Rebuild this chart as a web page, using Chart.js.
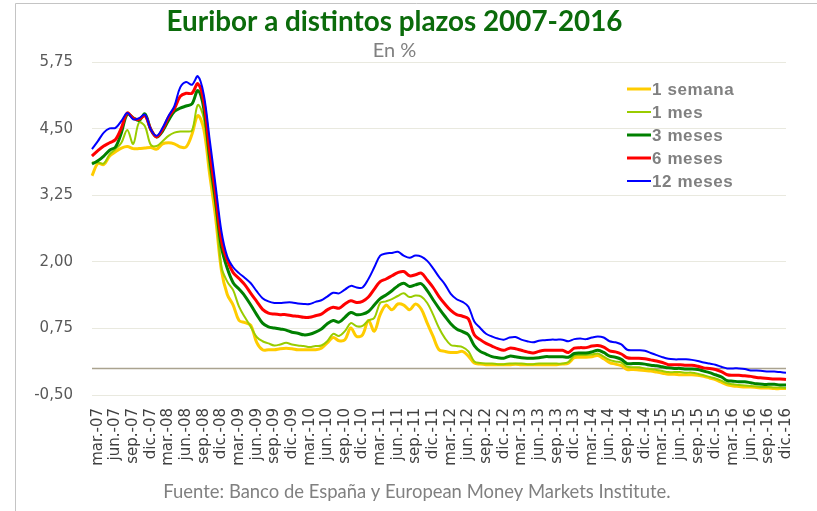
<!DOCTYPE html>
<html><head><meta charset="utf-8">
<script src="https://cdn.jsdelivr.net/npm/chart.js@4.4.1/dist/chart.umd.min.js"></script>
<style>html,body{margin:0;padding:0;background:#fff;overflow:hidden}</style>
</head><body>
<canvas id="c" width="817" height="511"></canvas>
<script>
// ---------- DATA ----------
const months = [
 'feb.-07','mar.-07','abr.-07','may.-07','jun.-07','jul.-07','ago.-07','sep.-07','oct.-07','nov.-07','dic.-07',
 'ene.-08','feb.-08','mar.-08','abr.-08','may.-08','jun.-08','jul.-08','ago.-08','sep.-08','oct.-08','nov.-08','dic.-08',
 'ene.-09','feb.-09','mar.-09','abr.-09','may.-09','jun.-09','jul.-09','ago.-09','sep.-09','oct.-09','nov.-09','dic.-09',
 'ene.-10','feb.-10','mar.-10','abr.-10','may.-10','jun.-10','jul.-10','ago.-10','sep.-10','oct.-10','nov.-10','dic.-10',
 'ene.-11','feb.-11','mar.-11','abr.-11','may.-11','jun.-11','jul.-11','ago.-11','sep.-11','oct.-11','nov.-11','dic.-11',
 'ene.-12','feb.-12','mar.-12','abr.-12','may.-12','jun.-12','jul.-12','ago.-12','sep.-12','oct.-12','nov.-12','dic.-12',
 'ene.-13','feb.-13','mar.-13','abr.-13','may.-13','jun.-13','jul.-13','ago.-13','sep.-13','oct.-13','nov.-13','dic.-13',
 'ene.-14','feb.-14','mar.-14','abr.-14','may.-14','jun.-14','jul.-14','ago.-14','sep.-14','oct.-14','nov.-14','dic.-14',
 'ene.-15','feb.-15','mar.-15','abr.-15','may.-15','jun.-15','jul.-15','ago.-15','sep.-15','oct.-15','nov.-15','dic.-15',
 'ene.-16','feb.-16','mar.-16','abr.-16','may.-16','jun.-16','jul.-16','ago.-16','sep.-16','oct.-16','nov.-16','dic.-16'
];
const tickLabels = [
 'mar.-07','jun.-07','sep.-07','dic.-07','mar.-08','jun.-08','sep.-08','dic.-08',
 'mar.-09','jun.-09','sep.-09','dic.-09','mar.-10','jun.-10','sep.-10','dic.-10',
 'mar.-11','jun.-11','sep.-11','dic.-11','mar.-12','jun.-12','sep.-12','dic.-12',
 'mar.-13','jun.-13','sep.-13','dic.-13','mar.-14','jun.-14','sep.-14','dic.-14',
 'mar.-15','jun.-15','sep.-15','dic.-15','mar.-16','jun.-16','sep.-16','dic.-16'
];
const yTicks = [-0.5, 0.75, 2.0, 3.25, 4.5, 5.75];
const seriesNames = ['1 semana', '1 mes', '3 meses', '6 meses', '12 meses'];

const euribor1s = [
 3.62,3.85,3.83,3.99,4.07,4.14,4.17,4.13,4.13,4.14,4.15,
 4.12,4.22,4.24,4.22,4.16,4.16,4.40,4.75,4.50,3.65,2.85,
 1.85,1.39,1.19,0.90,0.86,0.81,0.49,0.35,0.35,0.35,0.37,
 0.38,0.37,0.35,0.35,0.35,0.35,0.38,0.48,0.58,0.52,0.54,
 0.76,0.60,0.63,0.90,0.70,1.01,1.19,1.10,1.21,1.19,1.10,
 1.21,1.11,0.85,0.60,0.35,0.32,0.30,0.30,0.32,0.23,
 0.10,0.08,0.07,0.07,0.07,0.07,0.07,0.08,0.07,0.07,0.07,0.07,0.07,0.07,0.07,0.08,
 0.10,0.20,0.21,0.21,0.22,0.24,0.18,0.11,0.08,0.05,
 -0.02,-0.02,-0.03,-0.04,-0.05,-0.07,-0.09,-0.11,-0.11,-0.12,
 -0.12,-0.12,-0.13,-0.15,-0.18,-0.21,-0.26,-0.31,-0.33,-0.34,
 -0.35,-0.35,-0.36,-0.37,-0.37,-0.38,-0.38,-0.38
];
const euribor1m = [
 3.87,3.87,3.85,4.02,4.12,4.24,4.48,4.22,4.62,4.55,4.20,
 4.18,4.27,4.37,4.43,4.45,4.45,4.47,4.95,4.70,3.77,3.03,
 1.91,1.63,1.47,1.16,0.96,0.78,0.59,0.51,0.47,0.43,0.45,
 0.48,0.45,0.43,0.42,0.40,0.42,0.43,0.51,0.65,0.61,0.70,
 0.85,0.79,0.80,0.90,0.95,1.23,1.26,1.30,1.36,1.41,1.34,
 1.37,1.35,1.23,1.01,0.76,0.57,0.44,0.42,0.40,0.32,
 0.13,0.10,0.09,0.09,0.08,0.08,0.09,0.09,0.09,0.08,0.08,0.09,0.09,0.09,0.09,0.09,
 0.12,0.24,0.25,0.25,0.26,0.28,0.22,0.16,0.13,0.11,
 0.03,0.02,0.02,0.00,-0.01,-0.03,-0.05,-0.07,-0.07,-0.07,
 -0.08,-0.08,-0.10,-0.13,-0.16,-0.19,-0.23,-0.28,-0.30,-0.31,
 -0.32,-0.33,-0.34,-0.35,-0.35,-0.36,-0.36,-0.37
];
const euribor3m = [
 3.84,3.90,3.99,4.10,4.16,4.43,4.78,4.71,4.66,4.78,4.49,
 4.35,4.46,4.66,4.83,4.89,4.93,4.97,5.22,4.89,3.96,3.15,
 2.28,1.88,1.61,1.49,1.36,1.19,1.01,0.85,0.78,0.76,0.74,
 0.72,0.68,0.66,0.63,0.64,0.68,0.74,0.84,0.90,0.87,0.96,
 1.05,1.01,1.02,1.07,1.19,1.31,1.38,1.46,1.55,1.60,1.54,
 1.57,1.59,1.46,1.29,1.13,0.98,0.84,0.74,0.69,0.63,
 0.43,0.32,0.27,0.22,0.20,0.19,0.23,0.22,0.20,0.19,0.19,0.20,0.22,0.22,0.22,0.22,
 0.21,0.28,0.29,0.29,0.31,0.34,0.30,0.23,0.21,0.17,
 0.09,0.09,0.09,0.08,0.06,0.05,0.03,0.01,0.00,0.00,
 -0.01,-0.01,-0.02,-0.05,-0.08,-0.12,-0.16,-0.23,-0.24,-0.25,
 -0.25,-0.27,-0.29,-0.30,-0.30,-0.30,-0.31,-0.31
];
const euribor6m = [
 3.99,4.09,4.18,4.24,4.30,4.52,4.80,4.70,4.68,4.75,4.49,
 4.35,4.49,4.72,4.88,5.11,5.17,5.17,5.35,5.02,4.09,3.28,
 2.41,2.03,1.80,1.69,1.57,1.41,1.26,1.11,1.04,1.02,1.01,
 1.01,0.99,0.98,0.96,0.96,0.99,1.02,1.10,1.15,1.13,1.21,
 1.27,1.24,1.26,1.34,1.49,1.63,1.68,1.74,1.80,1.82,1.74,
 1.76,1.79,1.66,1.52,1.35,1.21,1.09,1.01,0.98,0.93,
 0.63,0.54,0.47,0.42,0.37,0.34,0.38,0.37,0.34,0.31,0.29,0.32,0.34,0.34,0.34,0.34,
 0.30,0.38,0.39,0.39,0.42,0.43,0.40,0.33,0.31,0.27,
 0.20,0.19,0.19,0.18,0.16,0.14,0.11,0.07,0.07,0.07,
 0.06,0.06,0.04,0.01,0.00,-0.02,-0.06,-0.12,-0.13,-0.13,
 -0.14,-0.15,-0.17,-0.18,-0.19,-0.20,-0.20,-0.21
];
const euribor12m = [
 4.12,4.27,4.43,4.51,4.52,4.65,4.80,4.68,4.70,4.77,4.49,
 4.37,4.52,4.74,4.93,5.28,5.38,5.33,5.49,5.15,4.31,3.45,
 2.58,2.10,1.90,1.79,1.70,1.60,1.45,1.32,1.26,1.23,1.23,
 1.24,1.24,1.22,1.21,1.21,1.25,1.28,1.35,1.42,1.41,1.48,
 1.55,1.52,1.52,1.68,1.90,2.12,2.16,2.17,2.19,2.12,2.08,
 2.12,2.10,2.02,1.88,1.72,1.58,1.40,1.30,1.25,1.16,
 0.88,0.76,0.65,0.60,0.56,0.54,0.58,0.59,0.54,0.51,0.49,0.52,0.53,0.54,0.54,0.54,
 0.51,0.55,0.56,0.55,0.58,0.60,0.58,0.51,0.49,0.45,
 0.35,0.34,0.34,0.33,0.29,0.25,0.21,0.18,0.17,0.17,
 0.17,0.16,0.14,0.11,0.09,0.07,0.03,0.00,0.00,0.00,
 -0.01,-0.04,-0.04,-0.05,-0.06,-0.06,-0.07,-0.08
];

// ---------- STYLE ----------
const colors = ['#FFCC00', '#99CC00', '#008000', '#FF0000', '#0000FF'];
const widths = [3, 2, 3, 3, 2];
const seriesData = [euribor1s, euribor1m, euribor3m, euribor6m, euribor12m];

const titleText = 'Euribor a distintos plazos 2007-2016';
const subtitleText = 'En %';
const sourceText = 'Fuente: Banco de España y European Money Markets Institute.';

function fitSize(text, weight, family, target) {
  const c = document.createElement('canvas').getContext('2d');
  c.font = weight + ' 20px ' + family;
  return 20 * target / c.measureText(text).width;
}
const titleSize = fitSize(titleText, 'bold', 'Lato', 456);
const sourceSize = fitSize(sourceText, 'normal', 'Lato', 508);
const titlePadTop = 5;
const subSize = 20;
const titleH = titleSize * 1.2 + titlePadTop;
const subPadBottom = Math.max(0, 61 - titleH - subSize * 1.2);

const decor = {
  id: 'decor',
  beforeDraw(chart) {
    const ctx = chart.ctx;
    ctx.save();
    ctx.fillStyle = '#ffffff';
    ctx.fillRect(0, 0, chart.width, chart.height);
    ctx.strokeStyle = '#c4c4c4';
    ctx.lineWidth = 1;
    ctx.beginPath();
    ctx.moveTo(15.5, chart.height);
    ctx.lineTo(15.5, 3.5);
    ctx.lineTo(chart.width, 3.5);
    ctx.stroke();
    ctx.restore();
  },
  beforeDatasetsDraw(chart) {
    const ctx = chart.ctx, a = chart.chartArea;
    const y0 = Math.round(chart.scales.y.getPixelForValue(0)) + 0.5;
    ctx.save();
    ctx.strokeStyle = '#aaa38f';
    ctx.lineWidth = 1.5;
    ctx.beginPath();
    ctx.moveTo(a.left, y0);
    ctx.lineTo(a.right, y0);
    ctx.stroke();
    ctx.restore();
  },
  afterDraw(chart) {
    const ctx = chart.ctx;
    ctx.save();
    const rowY = [89, 112, 135, 158, 181];
    chart.data.datasets.forEach((ds, i) => {
      ctx.strokeStyle = ds.borderColor;
      ctx.lineWidth = ds.borderWidth;
      ctx.beginPath();
      ctx.moveTo(627, rowY[i]);
      ctx.lineTo(651, rowY[i]);
      ctx.stroke();
      ctx.fillStyle = '#808080';
      ctx.font = 'bold 17px "Liberation Sans", Arial, sans-serif';
      ctx.letterSpacing = '0.6px';
      ctx.textAlign = 'left';
      ctx.textBaseline = 'middle';
      ctx.fillText(ds.label, 652, rowY[i] + 1);
    });
    ctx.letterSpacing = '0px';
    ctx.fillStyle = '#808080';
    ctx.font = sourceSize.toFixed(2) + 'px Lato, sans-serif';
    ctx.textAlign = 'center';
    ctx.textBaseline = 'middle';
    ctx.fillText(sourceText, 417, 492);
    ctx.restore();
  }
};

new Chart(document.getElementById('c'), {
  type: 'line',
  data: {
    labels: months,
    datasets: seriesNames.map((name, i) => ({
      label: name,
      data: seriesData[i],
      borderColor: colors[i],
      backgroundColor: colors[i],
      borderWidth: widths[i],
      pointRadius: 0,
      pointHoverRadius: 0,
      tension: 0.35,
      fill: false,
      order: 4 - i
    }))
  },
  options: {
    responsive: false,
    animation: false,
    devicePixelRatio: 1,
    layout: { padding: { left: 0, right: 28, top: 0, bottom: 0 } },
    plugins: {
      legend: { display: false },
      tooltip: { enabled: false },
      title: {
        display: true,
        text: titleText,
        color: '#0b6b0b',
        font: { family: 'Lato', size: titleSize, weight: 'bold', lineHeight: 1.2 },
        padding: { top: titlePadTop, bottom: 0 }
      },
      subtitle: {
        display: true,
        text: subtitleText,
        color: '#808080',
        font: { family: 'Lato', size: subSize, weight: 'normal', lineHeight: 1.2 },
        padding: { top: 0, bottom: subPadBottom }
      }
    },
    scales: {
      x: {
        type: 'category',
        offset: false,
        grid: { display: false, drawTicks: false },
        border: { display: false },
        ticks: {
          autoSkip: false,
          maxRotation: 90,
          minRotation: 90,
          padding: 13,
          color: '#404040',
          font: { family: 'DejaVu Sans', size: 15 },
          callback: (v, idx) => tickLabels.includes(months[idx]) ? months[idx] : ''
        },
        afterFit: (s) => { s.height = 116; }
      },
      y: {
        min: -0.5,
        max: 5.75,
        grid: { color: '#e9e9df', lineWidth: 1, drawTicks: false },
        border: { display: false },
        afterBuildTicks: (s) => { s.ticks = yTicks.map(v => ({ value: v })); },
        ticks: {
          padding: 19,
          color: '#595959',
          font: { family: 'DejaVu Sans', size: 15 },
          callback: (v) => Number(v).toFixed(2).replace('.', ',')
        },
        afterFit: (s) => { s.width = 92; }
      }
    }
  },
  plugins: [decor]
});
</script>
</body></html>
